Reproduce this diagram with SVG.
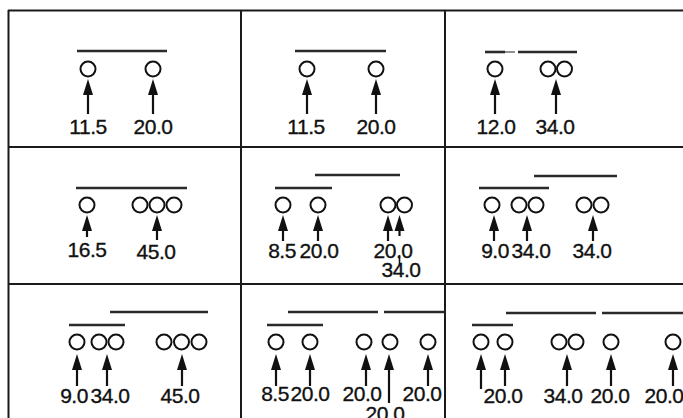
<svg xmlns="http://www.w3.org/2000/svg" width="683" height="418" viewBox="0 0 683 418">
  <style>
    .grid { stroke: #1a1a1a; stroke-width: 2; fill: none; }
    .bar { stroke: #2a2a2a; stroke-width: 2.6; fill: none; }
    .thin { stroke: #555; stroke-width: 1.3; fill: none; }
    .ring { stroke: #111; stroke-width: 2; fill: #fff; }
    .shaft { stroke: #111; stroke-width: 2.2; fill: none; marker-end: url(#head); }
    .stub { stroke: #111; stroke-width: 1.6; fill: none; }
    text { font-family: "Liberation Sans", Arial, Helvetica, sans-serif; font-size: 21px; letter-spacing: -0.5px; fill: #111; stroke: #111; stroke-width: 0.35; text-anchor: middle; }
  </style>
  <defs>
    <marker id="head" markerUnits="userSpaceOnUse" markerWidth="18" markerHeight="11" refX="0" refY="5" orient="auto" overflow="visible">
      <path d="M0,0 L16,5 L0,10 Z" fill="#111"/>
    </marker>
  </defs>
  <rect width="683" height="418" fill="#fff"/>

  <!-- panel frame -->
  <g id="frame" class="grid">
    <line x1="8" y1="10.5" x2="683" y2="10.5"/>
    <line x1="8.5" y1="10" x2="8.5" y2="418"/>
    <line x1="241" y1="10" x2="241" y2="418"/>
    <line x1="445" y1="10" x2="445" y2="418"/>
    <line x1="8" y1="147" x2="683" y2="147"/>
    <line x1="8" y1="284" x2="683" y2="284"/>
  </g>

  <!-- row 1 -->
  <g id="cell-1">
    <line class="bar" x1="77" y1="51" x2="167" y2="51"/>
    <circle class="ring" cx="88" cy="69" r="7.5"/>
    <circle class="ring" cx="153" cy="69" r="7.5"/>
    <text x="88" y="134">11.5</text>
    <text x="153" y="134">20.0</text>
  </g>
  <g id="cell-2">
    <line class="bar" x1="295" y1="51" x2="386" y2="51"/>
    <circle class="ring" cx="307" cy="69" r="7.5"/>
    <circle class="ring" cx="376" cy="69" r="7.5"/>
    <text x="306" y="134">11.5</text>
    <text x="376" y="134">20.0</text>
  </g>
  <g id="cell-3">
    <line class="bar" x1="485" y1="52" x2="505" y2="52"/>
    <line class="thin" x1="505" y1="52" x2="515" y2="52"/>
    <line class="bar" x1="518" y1="52" x2="577" y2="52"/>
    <circle class="ring" cx="495" cy="69" r="7.5"/>
    <circle class="ring" cx="548" cy="69" r="7.5"/>
    <circle class="ring" cx="564.5" cy="69" r="7.5"/>
    <text x="496" y="134">12.0</text>
    <text x="555" y="134">34.0</text>
  </g>

  <!-- row 2 -->
  <g id="cell-4">
    <line class="bar" x1="76" y1="188" x2="187" y2="188"/>
    <circle class="ring" cx="87" cy="205" r="7.5"/>
    <circle class="ring" cx="140" cy="205" r="7.5"/>
    <circle class="ring" cx="174" cy="205" r="7.5"/>
    <circle class="ring" cx="157" cy="205" r="7.5"/>
    <text x="87" y="257">16.5</text>
    <text x="156" y="259">45.0</text>
  </g>
  <g id="cell-5">
    <line class="bar" x1="315" y1="175" x2="400" y2="175"/>
    <line class="bar" x1="275" y1="188" x2="332" y2="188"/>
    <circle class="ring" cx="283" cy="205" r="7.5"/>
    <circle class="ring" cx="318" cy="205" r="7.5"/>
    <circle class="ring" cx="388" cy="205" r="7.5"/>
    <circle class="ring" cx="404.5" cy="205" r="7.5"/>
    <text x="282" y="258">8.5</text>
    <text x="319" y="258">20.0</text>
    <text x="393" y="258">20.0</text>
    <text x="401" y="277">34.0</text>
  </g>
  <g id="cell-6">
    <line class="bar" x1="534" y1="176" x2="617" y2="176"/>
    <line class="bar" x1="479" y1="188" x2="549" y2="188"/>
    <circle class="ring" cx="492" cy="205" r="7.5"/>
    <circle class="ring" cx="519" cy="205" r="7.5"/>
    <circle class="ring" cx="536" cy="205" r="7.5"/>
    <circle class="ring" cx="584" cy="205" r="7.5"/>
    <circle class="ring" cx="601" cy="205" r="7.5"/>
    <text x="495" y="258">9.0</text>
    <text x="531" y="258">34.0</text>
    <text x="592" y="258">34.0</text>
  </g>

  <!-- row 3 -->
  <g id="cell-7">
    <line class="bar" x1="110" y1="312" x2="208" y2="312"/>
    <line class="bar" x1="69" y1="325" x2="125" y2="325"/>
    <circle class="ring" cx="77" cy="342" r="7.5"/>
    <circle class="ring" cx="99" cy="342" r="7.5"/>
    <circle class="ring" cx="116" cy="342" r="7.5"/>
    <circle class="ring" cx="164" cy="342" r="7.5"/>
    <circle class="ring" cx="199" cy="342" r="7.5"/>
    <circle class="ring" cx="181.5" cy="342" r="7.5"/>
    <text x="74" y="403">9.0</text>
    <text x="110" y="403">34.0</text>
    <text x="180" y="403">45.0</text>
  </g>
  <g id="cell-8">
    <line class="bar" x1="288" y1="312" x2="378" y2="312"/>
    <line class="bar" x1="384" y1="312" x2="445" y2="312"/>
    <line class="bar" x1="267" y1="325" x2="323" y2="325"/>
    <circle class="ring" cx="276" cy="342" r="7.5"/>
    <circle class="ring" cx="310" cy="342" r="7.5"/>
    <circle class="ring" cx="364" cy="342" r="7.5"/>
    <circle class="ring" cx="390" cy="342" r="7.5"/>
    <circle class="ring" cx="428" cy="342" r="7.5"/>
    <text x="275" y="401">8.5</text>
    <text x="310" y="401">20.0</text>
    <text x="362" y="401">20.0</text>
    <text x="422" y="401">20.0</text>
    <text x="385" y="421">20.0</text>
  </g>
  <g id="cell-9">
    <line class="bar" x1="506" y1="313" x2="596" y2="313"/>
    <line class="bar" x1="602" y1="313" x2="683" y2="313"/>
    <line class="bar" x1="472" y1="325" x2="513" y2="325"/>
    <circle class="ring" cx="481" cy="342" r="7.5"/>
    <circle class="ring" cx="505" cy="342" r="7.5"/>
    <circle class="ring" cx="559" cy="342" r="7.5"/>
    <circle class="ring" cx="576" cy="342" r="7.5"/>
    <circle class="ring" cx="611" cy="342" r="7.5"/>
    <circle class="ring" cx="673" cy="342" r="7.5"/>
    <text x="503" y="403">20.0</text>
    <text x="563" y="403">34.0</text>
    <text x="610" y="403">20.0</text>
    <text x="664" y="403">20.0</text>
  </g>

  <!-- pointer arrows: each runs from below its label up to a ring -->
  <g id="connectors">
    <line class="shaft" x1="88" y1="114" x2="88" y2="95"/>
    <line class="shaft" x1="153" y1="114" x2="153" y2="95"/>
    <line class="shaft" x1="307" y1="114" x2="307" y2="95"/>
    <line class="shaft" x1="376" y1="114" x2="376" y2="95"/>
    <line class="shaft" x1="495" y1="114" x2="495" y2="95"/>
    <line class="shaft" x1="556" y1="114" x2="556" y2="95"/>

    <line class="shaft" x1="87" y1="237" x2="87" y2="231"/>
    <line class="shaft" x1="157" y1="240" x2="157" y2="231"/>
    <line class="shaft" x1="283" y1="241" x2="283" y2="231"/>
    <line class="shaft" x1="318" y1="241" x2="318" y2="231"/>
    <line class="shaft" x1="388" y1="241" x2="388" y2="231"/>
    <line class="shaft" x1="399.5" y1="236" x2="399.5" y2="231"/>
    <line class="stub" x1="399.5" y1="255" x2="399.5" y2="265"/>
    <line class="shaft" x1="494" y1="241" x2="494" y2="231"/>
    <line class="shaft" x1="527" y1="241" x2="527" y2="231"/>
    <line class="shaft" x1="593" y1="241" x2="593" y2="231"/>

    <line class="shaft" x1="77" y1="386" x2="77" y2="370"/>
    <line class="shaft" x1="107" y1="386" x2="107" y2="370"/>
    <line class="shaft" x1="182" y1="386" x2="182" y2="370"/>
    <line class="shaft" x1="276" y1="386" x2="276" y2="370"/>
    <line class="shaft" x1="310" y1="386" x2="310" y2="370"/>
    <line class="shaft" x1="366" y1="386" x2="366" y2="370"/>
    <line class="shaft" x1="389" y1="403" x2="389" y2="370"/>
    <line class="shaft" x1="428" y1="386" x2="428" y2="370"/>
    <line class="shaft" x1="481" y1="389" x2="481" y2="370"/>
    <line class="shaft" x1="505" y1="386" x2="505" y2="370"/>
    <line class="shaft" x1="567" y1="386" x2="567" y2="370"/>
    <line class="shaft" x1="611" y1="386" x2="611" y2="370"/>
    <line class="shaft" x1="673" y1="386" x2="673" y2="370"/>
  </g>
</svg>
